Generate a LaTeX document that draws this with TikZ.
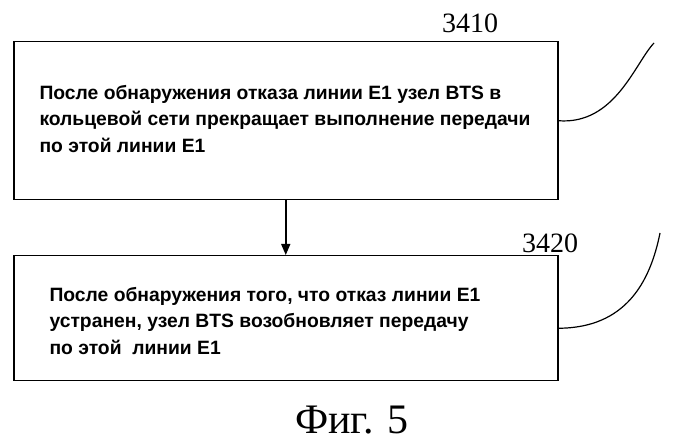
\documentclass[tikz,border=0pt]{standalone}
\usepackage{fontspec}
\setmainfont{Liberation Serif}
\newfontfamily\boxfont{Liberation Sans}
\usetikzlibrary{arrows.meta}
\begin{document}
\begin{tikzpicture}[x=1pt,y=1pt,
  stepbox/.style={draw,line width=1.5pt,minimum width=544pt,anchor=north west,inner sep=0pt},
  txt/.style={font=\boxfont\bfseries\fontsize{19.3}{26.5}\selectfont,align=left,anchor=west}]
\useasboundingbox (0,0) rectangle (700,443);
\node[stepbox,minimum height=158pt] (b1) at (13,402) {};
\node[stepbox,minimum height=125pt] (b2) at (13,188) {};
\node[txt] (t1) at (36,324) {После обнаружения отказа линии E1 узел BTS в\\кольцевой сети прекращает выполнение передачи\\по этой линии E1};
\node[txt] (t2) at (46,122) {После обнаружения того, что отказ линии E1\\устранен, узел BTS возобновляет передачу\\по этой\ \ линии E1};
\draw[line width=1.5pt,-{Triangle[length=11pt,width=9pt]}] (b1.south) -- (b2.north);
\node[font=\fontsize{28}{30}\selectfont] (l1) at (470,420) {3410};
\node[font=\fontsize{28}{30}\selectfont] (l2) at (550,200) {3420};
\coordinate (c1) at (654,400);
\coordinate (c2) at (660,210);
\draw[line width=1.2pt] (b1.east) .. controls (615,318) and (635,380) .. (c1);
\draw[line width=1.2pt] ([yshift=-10pt]b2.east) .. controls (625,115) and (650,160) .. (c2);
\node[font=\fontsize{42}{46}\selectfont] (cap) at (352,23) {Фиг. 5};
\end{tikzpicture}
\end{document}
